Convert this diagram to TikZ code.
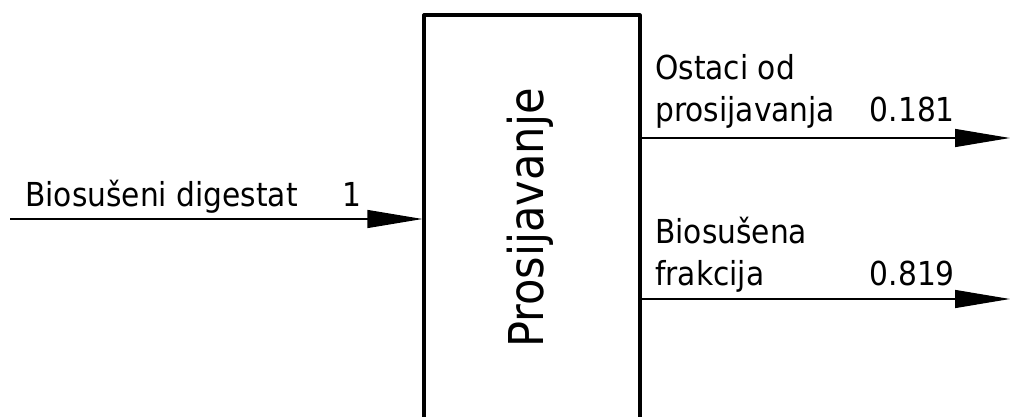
\documentclass[tikz,border=0pt]{standalone}
\usepackage{fontspec}
\setmainfont[FakeStretch=0.9]{DejaVu Sans}
\usetikzlibrary{arrows.meta}
\begin{document}
\begin{tikzpicture}[x=1pt, y=-1pt, line join=round, >={Triangle[length=55pt,width=18pt]}]
	\tikzset{lbl/.style={inner sep=0pt, font=\fontsize{33}{33}\selectfont},
		flow/.style={line width=1.2pt, ->}}
	%%%%%%%%%%%%%%%%%%%%%%%%%%%%%%%%%
	\useasboundingbox (0,0) rectangle (1010,417);
	\clip (0,0) rectangle (1010,417);
	%%%%%%%%%%%%%%%%%%%%%%%%%%%%%%%%%
	\coordinate (in) at (10,219);
	\coordinate (outA) at (1010,138);
	\coordinate (outB) at (1010,299);
	\node[draw, line width=3.2pt, minimum width=216pt, minimum height=415pt, inner sep=0pt] (proc) at (532,222.5) {};
	\node[inner sep=0pt, rotate=90, anchor=base, font=\fontsize{48}{48}\selectfont] (procname) at (543,218) {Prosijavanje};
	%%%%%%%%%%%%%%%%%%%%%%%%%%%%%%%%%
	\draw[flow] (in) -- (in -| proc.west);
	\draw[flow] (outA -| proc.east) -- (outA);
	\draw[flow] (outB -| proc.east) -- (outB);
	%%%%%%%%%%%%%%%%%%%%%%%%%%%%%%%%%
	\node[lbl, anchor=base west] (inname) at (25,207) {Biosušeni digestat};
	\node[lbl, anchor=base east] (inval) at (362,207) {1};
	\node[lbl, anchor=base west] (outAname1) at (655,80) {Ostaci od};
	\node[lbl, anchor=base west] (outAname2) at (655,122) {prosijavanja};
	\node[lbl, anchor=base east] (outAval) at (955,122) {0.181};
	\node[lbl, anchor=base west] (outBname1) at (655,243) {Biosušena};
	\node[lbl, anchor=base west] (outBname2) at (655,285) {frakcija};
	\node[lbl, anchor=base east] (outBval) at (955,285) {0.819};
	%%%%%%%%%%%%%%%%%%%%%%%%%%%%%%%%%
\end{tikzpicture}
\end{document}
